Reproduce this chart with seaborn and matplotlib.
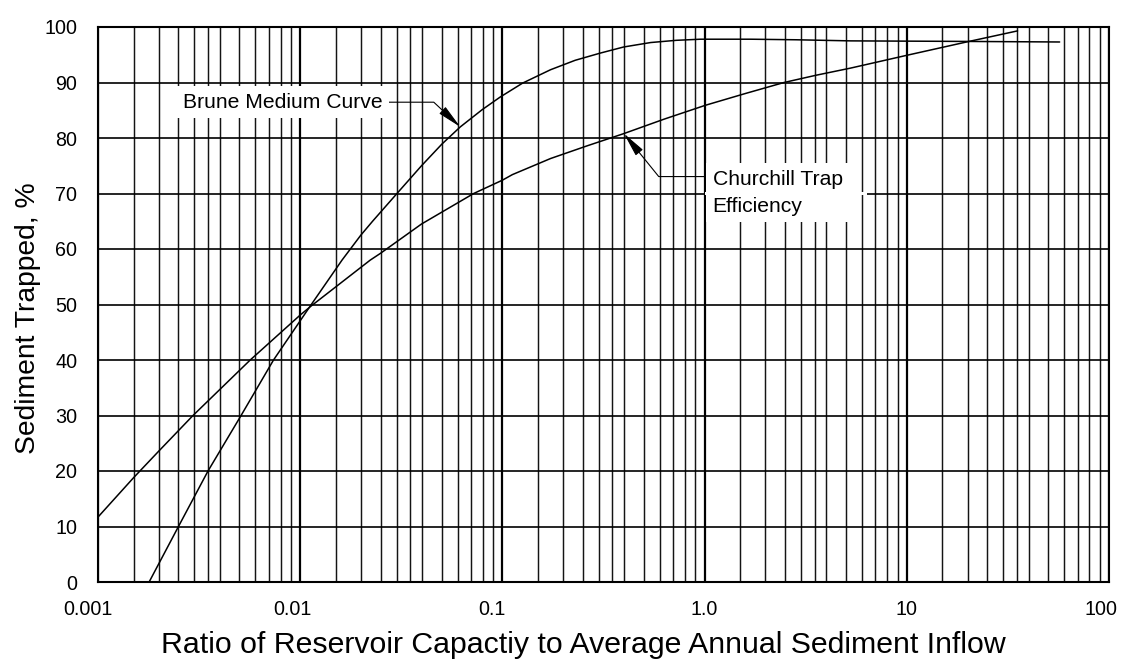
import matplotlib
matplotlib.use("Agg")
import matplotlib.pyplot as plt
from matplotlib.ticker import LogLocator, NullFormatter, FixedLocator
from matplotlib.transforms import ScaledTranslation
from matplotlib.patches import Rectangle
import seaborn as sns

# Brune medium curve (ratio, percent trapped)
brune_ratio = [0.00179, 0.0025, 0.0035, 0.0051, 0.00738, 0.0112, 0.0161, 0.01995,
               0.0228, 0.0301, 0.0398, 0.0502, 0.0619, 0.0794, 0.0977, 0.126,
               0.173, 0.229, 0.305, 0.398, 0.541, 0.724, 0.955, 1.69, 2.82,
               5.28, 20.0, 57.0]
brune_trapped = [0.0, 10.0, 20.0, 30.0, 40.0, 49.7, 58.0, 62.5,
                 65.0, 70.0, 75.0, 78.9, 82.0, 85.1, 87.4, 89.9,
                 92.3, 94.0, 95.3, 96.4, 97.2, 97.6, 97.8, 97.8, 97.7,
                 97.5, 97.4, 97.3]

# Churchill trap efficiency curve
churchill_ratio = [0.001, 0.0015, 0.002, 0.00295, 0.00566, 0.01, 0.0113, 0.0222,
                   0.0249, 0.0398, 0.0721, 0.1, 0.112, 0.173, 0.263, 0.399, 0.631,
                   1.01, 1.585, 2.47, 3.55, 5.28, 10.0, 20.3, 35.3]
churchill_trapped = [11.7, 18.8, 23.6, 30.0, 40.0, 48.1, 49.7, 58.0,
                     59.2, 64.5, 70.0, 72.4, 73.4, 76.3, 78.6, 80.8, 83.4,
                     85.9, 88.0, 90.0, 91.3, 92.6, 94.9, 97.4, 99.3]

x_ticks = [0.001, 0.01, 0.1, 1.0, 10.0, 100.0]
x_tick_labels = ["0.001", "0.01", "0.1", "1.0", "10", "100"]
y_ticks = [0, 10, 20, 30, 40, 50, 60, 70, 80, 90, 100]
minor_subs = [1.5, 2.0, 2.5, 3.0, 3.5, 4.0, 5.0, 6.0, 7.0, 8.0, 9.0]

sns.set_theme(style="white")
plt.rcParams["font.family"] = ["Liberation Sans", "DejaVu Sans"]

fig = plt.figure(figsize=(11.24, 6.6), dpi=100)
ax = fig.add_axes([98 / 1124, 78 / 660, 1011 / 1124, 555 / 660])

sns.lineplot(x=brune_ratio, y=brune_trapped, ax=ax, color="black", lw=1.1,
             estimator=None, sort=False, zorder=3)
sns.lineplot(x=churchill_ratio, y=churchill_trapped, ax=ax, color="black", lw=1.1,
             estimator=None, sort=False, zorder=3)

ax.set_xscale("log")
ax.set_xlim(0.001, 100)
ax.set_ylim(0, 100)

ax.xaxis.set_major_locator(FixedLocator(x_ticks))
ax.set_xticklabels(x_tick_labels)
ax.xaxis.set_minor_locator(LogLocator(base=10, subs=minor_subs, numticks=200))
ax.xaxis.set_minor_formatter(NullFormatter())
ax.set_yticks(y_ticks)

ax.set_axisbelow(True)
ax.grid(which="major", axis="x", color="black", lw=1.6)
ax.grid(which="minor", axis="x", color="#141414", lw=1.05)
ax.grid(which="major", axis="y", color="black", lw=1.2)

ax.tick_params(axis="both", which="both", length=0, labelsize=14.2, colors="black")
ax.tick_params(axis="x", which="major", pad=13)
ax.tick_params(axis="y", which="major", pad=15)

for sp in ax.spines.values():
    sp.set_color("black")
    sp.set_linewidth(1.5)

# small horizontal nudges (pixels) for the ratio labels
label_shift_px = [-10, -8, -10, 0, 0, -8]
for lab, dx in zip(ax.get_xticklabels(), label_shift_px):
    lab.set_transform(lab.get_transform() + ScaledTranslation(dx / 100, 0, fig.dpi_scale_trans))

ax.set_xlabel("Ratio of Reservoir Capactiy to Average Annual Sediment Inflow",
              fontsize=21.8, color="black")
ax.set_ylabel("Sediment Trapped, %", fontsize=20.3, color="black")
ax.xaxis.set_label_coords(0.48, -0.088)
ax.yaxis.set_label_coords(-0.0564, 0.476)

# clearance in the 70 % gridline beside the Churchill label
ax.add_patch(Rectangle((1.0, 69.7), 5.34, 0.6, facecolor="white", edgecolor="none",
                       zorder=1))

box = dict(boxstyle="square,pad=0.3", fc="white", ec="none")

ax.annotate("Brune Medium Curve", xy=(0.0619, 82.0), xytext=(0.002635, 85.46),
            textcoords="data", ha="left", va="baseline", fontsize=15.2, color="black",
            bbox=box, zorder=4,
            arrowprops=dict(arrowstyle="-|>,head_length=0.75,head_width=0.14",
                            connectionstyle="angle,angleA=0,angleB=-43,rad=0",
                            color="black", lw=0.8, shrinkA=0, shrinkB=0,
                            mutation_scale=20))

ax.annotate("Churchill Trap\nEfficiency", xy=(0.399, 80.8), xytext=(1.0955, 74.3),
            textcoords="data", ha="left", va="top", fontsize=15.2, color="black",
            linespacing=1.55, bbox=box, zorder=4,
            arrowprops=dict(arrowstyle="-|>,head_length=0.75,head_width=0.14",
                            connectionstyle="angle,angleA=0,angleB=129,rad=0",
                            relpos=(0.0, 0.85),
                            color="black", lw=0.8, shrinkA=0, shrinkB=0,
                            mutation_scale=20))

fig.savefig("out.png", dpi=100, facecolor="white")
